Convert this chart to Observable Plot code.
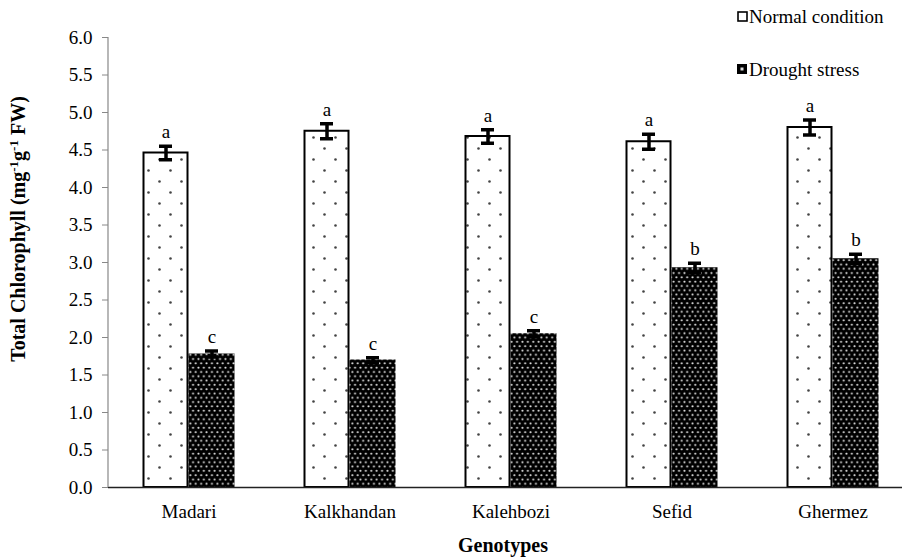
<!DOCTYPE html>
<html>
<head>
<meta charset="utf-8">
<script src="https://cdn.jsdelivr.net/npm/d3@7"></script>
<script src="https://cdn.jsdelivr.net/npm/@observablehq/plot@0.6"></script>
<style>
  html, body { margin: 0; padding: 0; background: #fff; }
  #chart { width: 902px; height: 560px; }
  #chart svg, #chart svg text { font-family: "Liberation Serif", "Times New Roman", serif !important; }
  #chart svg text { font-size: 19px; }
</style>
</head>
<body>
<div id="chart"></div>
<script>
const genotypes = ["Madari", "Kalkhandan", "Kalehbozi", "Sefid", "Ghermez"];
const seriesNames = ["Normal condition", "Drought stress"];
const normalValues = [4.46, 4.75, 4.68, 4.61, 4.80];
const normalErrors = [0.09, 0.10, 0.09, 0.10, 0.10];
const normalLetters = ["a", "a", "a", "a", "a"];
const droughtValues = [1.78, 1.70, 2.05, 2.93, 3.05];
const droughtErrors = [0.04, 0.03, 0.04, 0.06, 0.06];
const droughtLetters = ["c", "c", "c", "b", "b"];
const yTicks = [0, 0.5, 1, 1.5, 2, 2.5, 3, 3.5, 4, 4.5, 5, 5.5, 6];

const normal = genotypes.map((g, i) => ({genotype: g, series: seriesNames[0], value: normalValues[i], err: normalErrors[i], letter: normalLetters[i]}));
const drought = genotypes.map((g, i) => ({genotype: g, series: seriesNames[1], value: droughtValues[i], err: droughtErrors[i], letter: droughtLetters[i]}));

const W = 902, H = 560, mL = 108, mR = -11, mT = 37, mB = 73;
const bw = (W - mR - mL) / genotypes.length; // band width
const half = 46; // bar width
const off = half / 2;
const capInset = (bw - 13) / 2;
const font = "'Liberation Serif', 'Times New Roman', serif";

function seriesMarks(data, dx, barOpts) {
  return [
    Plot.barY(data, {x: "genotype", y: "value", ...barOpts}),
    Plot.ruleX(data, {x: "genotype", y1: d => d.value - d.err, y2: d => d.value + d.err, dx, stroke: "black", strokeWidth: 3.5}),
    Plot.tickY(data, {x: "genotype", y: d => d.value + d.err, dx, insetLeft: capInset, insetRight: capInset, stroke: "black", strokeWidth: 3.5}),
    Plot.tickY(data, {x: "genotype", y: d => d.value - d.err, dx, insetLeft: capInset, insetRight: capInset, stroke: "black", strokeWidth: 3.5}),
    Plot.text(data, {x: "genotype", y: d => d.value + d.err, dx, dy: -14, text: "letter", fill: "black", fontSize: 19})
  ];
}

const chart = Plot.plot({
  width: W, height: H,
  marginLeft: mL, marginRight: mR, marginTop: mT, marginBottom: mB,
  style: {fontFamily: font, fontSize: "19px", color: "black", background: "white", overflow: "visible"},
  x: {domain: genotypes, padding: 0, label: null},
  y: {domain: [0, 6], label: null},
  marks: [
    ...seriesMarks(normal, -off, {fill: "url(#pNormal)", stroke: "black", strokeWidth: 2,
      insetLeft: bw / 2 - half + 1, insetRight: bw / 2 + 1}),
    ...seriesMarks(drought, off, {fill: "url(#pDrought)",
      insetLeft: bw / 2, insetRight: bw / 2 - half}),
    Plot.ruleY([0], {stroke: "#222", strokeWidth: 1.5}),
    Plot.axisY({ticks: yTicks, tickFormat: d3.format(".1f"), tickSize: 6, tickPadding: 10, stroke: "#888", fill: "black", label: null, fontSize: 19}),
    Plot.axisX({tickSize: 0, tickPadding: 17, label: null, fill: "black", fontSize: 19})
  ]
});

const svg = d3.select(chart);
const ys = chart.scale("y");
const y0 = ys.apply(0), y6 = ys.apply(6);

// patterns
const defs = svg.insert("defs", ":first-child");
const pn = defs.append("pattern").attr("id", "pNormal").attr("patternUnits", "userSpaceOnUse")
  .attr("width", 22).attr("height", 22);
pn.append("rect").attr("width", 22).attr("height", 22).attr("fill", "white");
pn.append("circle").attr("cx", 5.5).attr("cy", 5.5).attr("r", 1.3).attr("fill", "#444");
pn.append("circle").attr("cx", 16.5).attr("cy", 16.5).attr("r", 1.3).attr("fill", "#444");
const pd = defs.append("pattern").attr("id", "pDrought").attr("patternUnits", "userSpaceOnUse")
  .attr("width", 5.4).attr("height", 8.6);
pd.append("rect").attr("width", 5.4).attr("height", 8.6).attr("fill", "black");
pd.append("circle").attr("cx", 1.35).attr("cy", 2.15).attr("r", 1.05).attr("fill", "#e6e6e6");
pd.append("circle").attr("cx", 4.05).attr("cy", 6.45).attr("r", 1.05).attr("fill", "#e6e6e6");

// y axis line
svg.append("line").attr("x1", mL).attr("x2", mL).attr("y1", y6).attr("y2", y0)
  .attr("stroke", "#888").attr("stroke-width", 1.2);

// y axis title with superscripts
const yt = svg.append("text")
  .attr("transform", `translate(25,229) rotate(-90)`)
  .attr("text-anchor", "middle").attr("font-weight", "bold")
  .attr("fill", "black").style("font-size", "20px");
yt.append("tspan").text("Total Chlorophyll (mg");
yt.append("tspan").style("font-size", "13px").attr("dy", -7).text("-1");
yt.append("tspan").attr("dy", 7).text("g");
yt.append("tspan").style("font-size", "13px").attr("dy", -7).text("-1");
yt.append("tspan").attr("dy", 7).text(" FW)");

// x axis title
svg.append("text").attr("x", 503).attr("y", 552)
  .attr("text-anchor", "middle").attr("font-weight", "bold")
  .attr("fill", "black").style("font-size", "20px").text("Genotypes");

// legend
const lg = svg.append("g").attr("fill", "black").attr("text-anchor", "start");
lg.append("rect").attr("x", 738).attr("y", 12).attr("width", 9).attr("height", 9)
  .attr("fill", "white").attr("stroke", "black").attr("stroke-width", 1.6);
lg.append("text").attr("x", 749).attr("y", 23).attr("text-anchor", "start").text(seriesNames[0]);
lg.append("rect").attr("x", 737).attr("y", 64).attr("width", 10).attr("height", 10).attr("fill", "black");
lg.append("rect").attr("x", 740.5).attr("y", 67.5).attr("width", 3).attr("height", 3).attr("fill", "#ddd");
lg.append("text").attr("x", 749).attr("y", 76).attr("text-anchor", "start").text(seriesNames[1]);

document.getElementById("chart").appendChild(chart);
</script>
</body>
</html>
